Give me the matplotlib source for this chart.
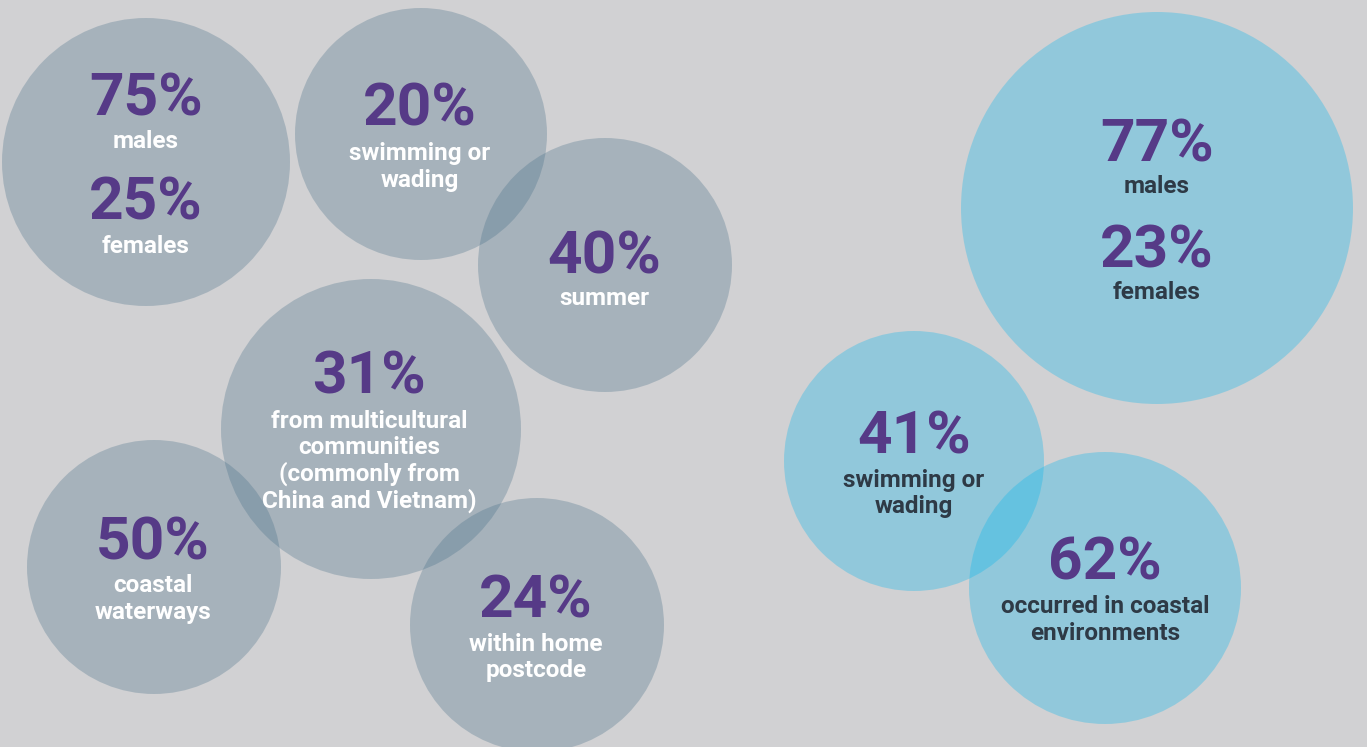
import matplotlib.pyplot as plt
from matplotlib.patches import Circle

# stats, in reading order
stat_values = [75, 25, 20, 40, 31, 50, 24, 77, 23, 41, 62]
stat_labels = [
    'males',
    'females',
    'swimming or\nwading',
    'summer',
    'from multicultural\ncommunities\n(commonly from\nChina and Vietnam)',
    'coastal\nwaterways',
    'within home\npostcode',
    'males',
    'females',
    'swimming or\nwading',
    'occurred in coastal\nenvironments',
]
# which bubble each stat sits in
stat_bubble = [0, 0, 1, 2, 3, 4, 5, 6, 6, 7, 8]
bubble_group = ['left'] * 6 + ['right'] * 3

# layout (pixels, y down)
bubble_xy = [(146, 162), (421, 134), (605, 265), (371, 429), (154, 567),
             (537, 625), (1157, 208), (914, 461), (1105, 588)]
bubble_r = [144, 126, 127, 150, 127, 127, 196, 130, 136]
# text anchors: x centre, baseline of the % number, baseline of first label line
text_pos = [(146, 115, 148), (146, 220, 253), (420, 125, 160), (604, 273, 305),
            (369, 393, 428), (153, 560, 592), (536, 617, 651),
            (1157, 161, 193), (1157, 267, 299), (914, 453, 487), (1105, 579, 613)]
line_gap = 26.5

bg = '#d1d1d3'
fill = {'left': '#456d86', 'right': '#00b6ee'}
label_col = {'left': 'white', 'right': '#2e3a46'}
purple = '#563a87'

plt.rcParams['font.family'] = ['Roboto', 'DejaVu Sans']

fig = plt.figure(figsize=(13.67, 7.47), dpi=100)
fig.patch.set_facecolor(bg)
ax = fig.add_axes([0, 0, 1, 1])
ax.set_xlim(0, 1367)
ax.set_ylim(747, 0)
ax.axis('off')

for (x, y), r, g in zip(bubble_xy, bubble_r, bubble_group):
    ax.add_patch(Circle((x, y), r, facecolor=fill[g], edgecolor='none', alpha=0.3))

for v, lab, b, (tx, py, ly) in zip(stat_values, stat_labels, stat_bubble, text_pos):
    g = bubble_group[b]
    ax.text(tx, py, f'{v}%', ha='center', va='baseline', fontsize=43.5,
            fontweight='bold', color=purple)
    for i, line in enumerate(lab.split('\n')):
        ax.text(tx, ly + i * line_gap, line, ha='center', va='baseline',
                fontsize=17.5, fontweight='bold', color=label_col[g])

fig.savefig('out.png', dpi=100, facecolor=bg)
